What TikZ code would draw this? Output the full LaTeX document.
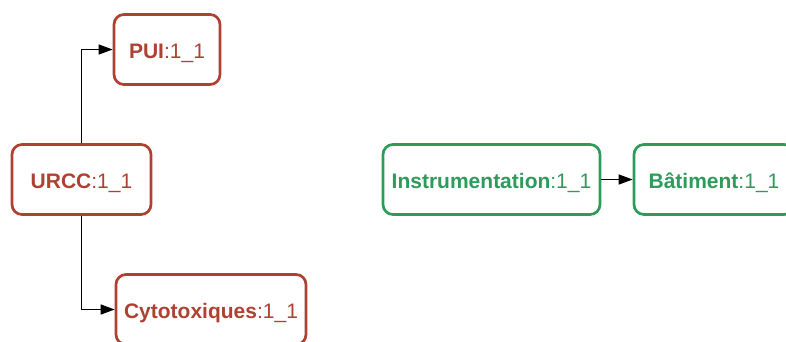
\documentclass[tikz,border=0pt]{standalone}
\usepackage{fontspec}
\setmainfont{Liberation Sans}
\usetikzlibrary{arrows.meta}
\definecolor{rd}{HTML}{AE4132}
\definecolor{gn}{HTML}{2D9C5B}
\begin{document}
\begin{tikzpicture}[x=1pt,y=-1pt,
  box/.style={draw, line width=2.7pt, rounded corners=10pt, inner sep=0pt, minimum height=70pt, text height=18pt, text depth=0pt, font=\fontsize{21}{25}\selectfont},
  redbox/.style={box, draw=rd, text=rd},
  greenbox/.style={box, draw=gn, text=gn},
  conn/.style={-{Triangle[length=14pt,width=10pt]}, line width=1.3pt}]
\useasboundingbox (0,0) rectangle (786,341);
\clip (0,0) rectangle (786,341);
\node[redbox, minimum width=106pt] (pui) at (167,49.5) {\textbf{PUI}:1\_1};
\node[redbox, minimum width=139pt] (urcc) at (81.5,179.5) {\textbf{URCC}:1\_1};
\node[redbox, minimum width=190pt] (cyto) at (211,309.5) {\textbf{Cytotoxiques}:1\_1};
\node[greenbox, minimum width=217pt] (instr) at (491.5,179.5) {\textbf{Instrumentation}:1\_1};
\node[greenbox, minimum width=160pt] (bat) at (714,179.5) {\textbf{Bâtiment}:1\_1};
\draw[conn] (urcc.north) |- (pui.west);
\draw[conn] (urcc.south) |- (cyto.west);
\draw[conn] (instr.east) -- (bat.west);
\end{tikzpicture}
\end{document}
